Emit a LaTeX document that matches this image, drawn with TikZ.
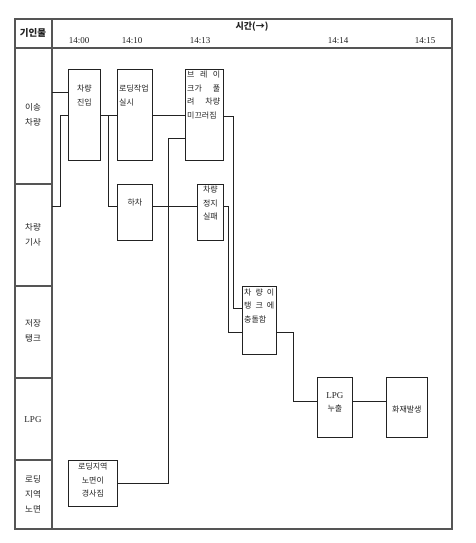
\documentclass[tikz,border=0pt]{standalone}
\usepackage{fontspec}
\setmainfont{Liberation Serif}
\newfontfamily\kr{Noto Sans CJK KR}
\definecolor{Ink}{HTML}{222222}
\definecolor{Frame}{HTML}{555555}
\tikzset{
  event/.style 2 args={draw=Ink,line width=.75pt,anchor=north west,minimum width=#1pt,
    minimum height=#2pt,inner sep=0pt},
  txt/.style={align=center,font=\kr\fontsize{8}{13.5}\selectfont,text=Ink,inner sep=0pt},
  wire/.style={draw=Ink,line width=.75pt},
  frameline/.style={draw=Frame,line width=1.3pt},
  rowlab/.style={align=center,font=\kr\fontsize{8.5}{15}\selectfont,text=Ink},
  timelab/.style={font=\fontsize{9}{10}\selectfont,text=Ink}
}

\begin{document}
\begin{tikzpicture}[x=1pt,y=-1pt]
  \useasboundingbox (0,0) rectangle (476,543);
  % table frame
  \draw[frameline] (15,19) rectangle (452,529);
  \coordinate (colL) at (52,48);
  \draw[frameline] (15,48) -- (452,48);
  \draw[frameline] (52,19) -- (52,529);
  \foreach \y in {184,286,378,460} \draw[frameline,line width=1.1pt] (15,\y) -- (colL |- 0,\y);
  % header
  \node[font=\kr\bfseries\fontsize{9.5}{11}\selectfont,text=Ink] (hcause) at (33,33) {기인물};
  \node[font=\kr\bfseries\fontsize{9}{11}\selectfont,text=Ink] (htime) at (252,27) {시간(→)};
  \foreach \t/\x in {14:00/79,14:10/132,14:13/200,14:14/338,14:15/425}
    \node[timelab] (t\x) at (\x,41) {\t};
  % row labels
  \node[rowlab] (rcar) at (33,115) {이송\\차량};
  \node[rowlab] (rdriver) at (33,235) {차량\\기사};
  \node[rowlab] (rtank) at (33,331) {저장\\탱크};
  \node[rowlab,font=\fontsize{9}{10}\selectfont] (rlpg) at (33,420) {LPG};
  \node[rowlab] (rground) at (33,494) {로딩\\지역\\노면};
  % events
  \node[event={32}{91},label={[txt,anchor=north,yshift=-16pt]north:차량\\진입}] (enter) at (68,69) {};
  \node[event={35}{91},label={[txt,align=left,anchor=north west,xshift=2pt,yshift=-16pt]north west:로딩작업\\실시}] (load) at (117,69) {};
  \node[event={38}{91},label={[txt,align=left,anchor=north west,xshift=2pt,yshift=-2pt]north west:\makebox[33pt][s]{브 레 이}\\\makebox[33pt][s]{크가 풀}\\\makebox[33pt][s]{려 차량}\\미끄러짐}] (brake) at (185,69) {};
  \node[event={35}{56},label={[txt,anchor=north,yshift=-15pt]north:하차}] (unload) at (117,184) {};
  \node[event={26}{56},label={[txt,anchor=north,yshift=-2pt]north:차량\\정지\\실패}] (nostop) at (197,184) {};
  \node[event={34}{68},label={[txt,align=left,anchor=north west,xshift=2pt,yshift=-2.5pt]north west:\makebox[30pt][s]{차 량 이}\\\makebox[30pt][s]{탱 크 에}\\충돌함}] (crash) at (242,286) {};
  \node[event={35}{60},label={[txt,anchor=north,yshift=-15pt]north:{\rmfamily\fontsize{9}{13.5}\selectfont LPG}\\누출}] (leak) at (317,377) {};
  \node[event={41}{60},label={[txt,anchor=north,yshift=-29pt]north:화재발생}] (fire) at (386,377) {};
  \node[event={49}{46},label={[txt,anchor=north,yshift=-3pt]north:로딩지역\\노면이\\경사짐}] (slope) at (68,460) {};
  % connectors
  \coordinate (e1) at ([yshift=-23pt]enter.north west);
  \coordinate (e2) at ([yshift=-46pt]enter.north west);
  \coordinate (u1) at ([yshift=-22pt]unload.north west);
  \coordinate (b1) at ([yshift=-69pt]brake.north west);
  \draw[wire] (colL |- e1) -- (e1);
  \draw[wire] (colL |- u1) -- ++(8,0) |- (e2);
  \draw[wire] ([yshift=-46pt]enter.north east) -- ([yshift=-46pt]load.north west);
  \draw[wire] ([yshift=-46pt]enter.north east) -- ++(8,0) |- (u1);
  \draw[wire] ([yshift=-46pt]load.north east) -- ([yshift=-46pt]brake.north west);
  \draw[wire] ([yshift=-22pt]unload.north east) -- ([yshift=-22pt]nostop.north west);
  \draw[wire] ([yshift=-23pt]slope.north east) -| ([xshift=-17pt]b1) -- (b1);
  \draw[wire] ([yshift=-47pt]brake.north east) -- ++(10,0) |- ([yshift=-22pt]crash.north west);
  \draw[wire] ([yshift=-22pt]nostop.north east) -- ++(5,0) |- ([yshift=-46pt]crash.north west);
  \draw[wire] ([yshift=-46pt]crash.north east) -- ++(17,0) |- ([yshift=-24pt]leak.north west);
  \draw[wire] ([yshift=-24pt]leak.north east) -- ([yshift=-24pt]fire.north west);
\end{tikzpicture}
\end{document}
